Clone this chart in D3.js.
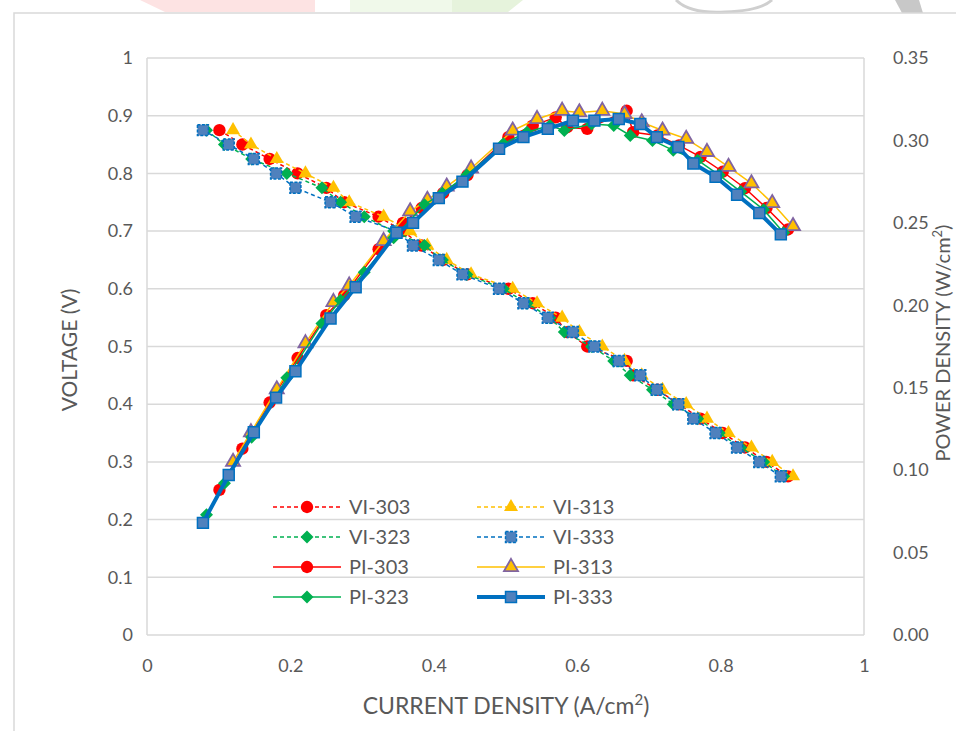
<!DOCTYPE html>
<html>
<head>
<meta charset="utf-8">
<script src="https://cdn.jsdelivr.net/npm/d3@7/dist/d3.min.js"></script>
<style>
  body { margin: 0; background: #fff; }
  svg { display: block; font-family: Lato, "Open Sans", sans-serif; }
</style>
</head>
<body>
<div id="chart"></div>
<script>
// voltage steps (V), shared by all four temperatures
const voltage = [0.875, 0.85, 0.825, 0.8, 0.775, 0.75, 0.725, 0.7, 0.675, 0.65, 0.625, 0.6, 0.575,
  0.55, 0.525, 0.5, 0.475, 0.45, 0.425, 0.4, 0.375, 0.35, 0.325, 0.3, 0.275];

// current density (A/cm2)
const current303 = [0.101, 0.133, 0.171, 0.210, 0.250, 0.275, 0.323, 0.357, 0.383, 0.413, 0.447, 0.504, 0.538,
  0.570, 0.586, 0.614, 0.669, 0.678, 0.712, 0.742, 0.772, 0.803, 0.834, 0.864, 0.894];
const current313 = [0.120, 0.145, 0.181, 0.221, 0.260, 0.282, 0.330, 0.367, 0.391, 0.418, 0.452, 0.510, 0.544,
  0.579, 0.603, 0.635, 0.666, 0.690, 0.719, 0.752, 0.781, 0.811, 0.843, 0.872, 0.901];
const current323 = [0.083, 0.108, 0.146, 0.195, 0.244, 0.270, 0.303, 0.344, 0.387, 0.412, 0.446, 0.497, 0.530,
  0.562, 0.582, 0.620, 0.651, 0.674, 0.705, 0.734, 0.768, 0.798, 0.828, 0.860, 0.888];
const current333 = [0.078, 0.114, 0.149, 0.180, 0.207, 0.256, 0.291, 0.348, 0.371, 0.407, 0.440, 0.491, 0.525,
  0.559, 0.594, 0.624, 0.658, 0.688, 0.711, 0.741, 0.762, 0.793, 0.823, 0.854, 0.884];

// power density (W/cm2)
const power303 = [0.088, 0.113, 0.141, 0.168, 0.194, 0.206, 0.234, 0.250, 0.259, 0.268, 0.279, 0.302, 0.309,
  0.314, 0.308, 0.307, 0.318, 0.305, 0.303, 0.297, 0.290, 0.281, 0.271, 0.259, 0.246];
const power313 = [0.105, 0.123, 0.149, 0.177, 0.202, 0.212, 0.239, 0.257, 0.264, 0.272, 0.283, 0.306, 0.313,
  0.318, 0.317, 0.318, 0.316, 0.311, 0.306, 0.301, 0.293, 0.284, 0.274, 0.262, 0.248];
const power323 = [0.073, 0.092, 0.120, 0.156, 0.189, 0.203, 0.220, 0.241, 0.261, 0.268, 0.279, 0.298, 0.305,
  0.309, 0.306, 0.310, 0.309, 0.303, 0.300, 0.294, 0.288, 0.279, 0.269, 0.258, 0.244];
const power333 = [0.068, 0.097, 0.123, 0.144, 0.160, 0.192, 0.211, 0.244, 0.250, 0.265, 0.275, 0.295, 0.302,
  0.307, 0.312, 0.312, 0.313, 0.310, 0.302, 0.296, 0.286, 0.278, 0.267, 0.256, 0.243];

const xTicks = [0, 0.2, 0.4, 0.6, 0.8, 1];
const leftTicks = [0, 0.1, 0.2, 0.3, 0.4, 0.5, 0.6, 0.7, 0.8, 0.9, 1];
const rightTicks = [0, 0.05, 0.1, 0.15, 0.2, 0.25, 0.3, 0.35];

const width = 956;
const height = 731;
const plot = { left: 147, right: 864, top: 58, bottom: 635 };
const textColor = '#595959';
const gridColor = '#d9d9d9';

const series = [
  { name: 'VI-303', x: current303, y: voltage, axis: 'left', color: '#FF0000', dash: '4,3', lw: 1.5,
    marker: 'circle', fill: '#FF0000', stroke: 'none' },
  { name: 'VI-313', x: current313, y: voltage, axis: 'left', color: '#FFC000', dash: '4,3', lw: 1.5,
    marker: 'triangle', fill: '#FFC000', stroke: 'none' },
  { name: 'VI-323', x: current323, y: voltage, axis: 'left', color: '#00B050', dash: '4,3', lw: 1.5,
    marker: 'diamond', fill: '#00B050', stroke: 'none' },
  { name: 'VI-333', x: current333, y: voltage, axis: 'left', color: '#0070C0', dash: '4,3', lw: 1.5,
    marker: 'square', fill: '#4F81BD', stroke: '#0070C0' },
  { name: 'PI-303', x: current303, y: power303, axis: 'right', color: '#FF0000', dash: null, lw: 1.5,
    marker: 'circle', fill: '#FF0000', stroke: 'none' },
  { name: 'PI-313', x: current313, y: power313, axis: 'right', color: '#FFC000', dash: null, lw: 1.5,
    marker: 'triangle', fill: '#FFC000', stroke: '#8064A2' },
  { name: 'PI-323', x: current323, y: power323, axis: 'right', color: '#00B050', dash: null, lw: 1.5,
    marker: 'diamond', fill: '#00B050', stroke: 'none' },
  { name: 'PI-333', x: current333, y: power333, axis: 'right', color: '#0070C0', dash: null, lw: 4,
    marker: 'square', fill: '#4F81BD', stroke: '#0070C0' }
];

const svg = d3.select('#chart')
  .append('svg')
  .attr('width', width)
  .attr('height', height);

// faint header artwork cut off at the top of the page
svg.append('path').attr('d', 'M140,0 L315,0 L315,12 L165,12 Z').attr('fill', '#fde3e3');
svg.append('path').attr('d', 'M350,0 L452,0 L452,12 L350,12 Z').attr('fill', '#f0f9ea');
svg.append('path').attr('d', 'M452,0 L523,0 L508,12 L452,12 Z').attr('fill', '#e6f3dc');
svg.append('path').attr('d', 'M676,0 Q690,14 725,12 Q760,11 772,0')
  .attr('fill', 'none').attr('stroke', '#cfcfcf').attr('stroke-width', 3);
svg.append('path').attr('d', 'M895,0 L919,0 L923,13 L902,13 Z').attr('fill', '#c8c8c8');

// chart frame
svg.append('path')
  .attr('d', 'M14,' + height + ' L14,13 L' + width + ',13')
  .attr('fill', 'none')
  .attr('stroke', gridColor)
  .attr('stroke-width', 1.5);

const x = d3.scaleLinear().domain([0, 1]).range([plot.left, plot.right]);
const yLeft = d3.scaleLinear().domain([0, 1]).range([plot.bottom, plot.top]);
const yRight = d3.scaleLinear().domain([0, 0.35]).range([plot.bottom, plot.top]);

// gridlines
svg.append('g')
  .selectAll('line')
  .data(leftTicks)
  .enter()
  .append('line')
  .attr('x1', plot.left)
  .attr('x2', plot.right)
  .attr('y1', d => yLeft(d))
  .attr('y2', d => yLeft(d))
  .attr('stroke', gridColor)
  .attr('stroke-width', 1.5);

svg.append('g')
  .selectAll('line')
  .data([0, 1])
  .enter()
  .append('line')
  .attr('x1', d => x(d))
  .attr('x2', d => x(d))
  .attr('y1', plot.top)
  .attr('y2', plot.bottom)
  .attr('stroke', gridColor)
  .attr('stroke-width', 1.5);

// axes
const styleAxis = g => {
  g.select('.domain').remove();
  g.selectAll('line').remove();
  g.selectAll('text')
    .attr('fill', textColor)
    .style('font-size', '18px')
    .style('font-family', 'Lato, sans-serif');
};

svg.append('g')
  .attr('transform', 'translate(' + plot.left + ',0)')
  .call(d3.axisLeft(yLeft).tickValues(leftTicks).tickSize(0).tickPadding(14)
    .tickFormat(d => String(+d.toFixed(1))))
  .call(styleAxis);

svg.append('g')
  .attr('transform', 'translate(' + plot.right + ',0)')
  .call(d3.axisRight(yRight).tickValues(rightTicks).tickSize(0).tickPadding(29)
    .tickFormat(d3.format('.2f')))
  .call(styleAxis);

svg.append('g')
  .attr('transform', 'translate(0,' + plot.bottom + ')')
  .call(d3.axisBottom(x).tickValues(xTicks).tickSize(0).tickPadding(24)
    .tickFormat(d => String(+d.toFixed(1))))
  .call(styleAxis);

// axis titles
const title = (tx, ty, rot, size, main, sup, tail) => {
  const t = svg.append('text')
    .attr('transform', 'translate(' + tx + ',' + ty + ') rotate(' + rot + ')')
    .attr('text-anchor', 'middle')
    .attr('fill', textColor)
    .style('font-size', size + 'px');
  t.append('tspan').text(main);
  if (sup) {
    t.append('tspan').attr('dy', -size * 0.4).style('font-size', Math.round(size * 0.65) + 'px').text(sup);
    t.append('tspan').attr('dy', size * 0.4).text(tail);
  }
};
title(506, 714, 0, 23, 'CURRENT DENSITY (A/cm', '2', ')');
title(77, 350, -90, 21, 'VOLTAGE (V)');
title(950, 343, -90, 20, 'POWER DENSITY (W/cm', '2', ')');

// marker shapes
const markerPath = {
  circle: d3.symbol().type(d3.symbolCircle).size(120)(),
  triangle: d3.symbol().type(d3.symbolTriangle).size(85)(),
  diamond: 'M0,-6.5L6.5,0L0,6.5L-6.5,0Z',
  square: d3.symbol().type(d3.symbolSquare).size(120)()
};

const drawMarker = (g, s, cx, cy) => {
  g.append('path')
    .attr('d', markerPath[s.marker])
    .attr('transform', 'translate(' + cx + ',' + cy + ')')
    .attr('fill', s.fill)
    .attr('stroke', s.stroke)
    .attr('stroke-width', s.marker === 'triangle' ? 1.8 : 1.5)
    .attr('stroke-dasharray', s.dash && s.stroke !== 'none' ? '3,1.5' : null);
};

// series lines and markers
series.forEach(s => {
  const yScale = s.axis === 'left' ? yLeft : yRight;
  const pts = s.x.map((v, i) => [v, s.y[i]]);
  const g = svg.append('g');

  g.append('path')
    .datum(pts)
    .attr('fill', 'none')
    .attr('stroke', s.color)
    .attr('stroke-width', s.lw)
    .attr('stroke-dasharray', s.dash)
    .attr('stroke-linejoin', 'round')
    .attr('d', d3.line().x(d => x(d[0])).y(d => yScale(d[1])));

  pts.forEach(d => drawMarker(g, s, x(d[0]), yScale(d[1])));
});

// legend, two columns
const legend = svg.append('g');
series.forEach((s, i) => {
  const col = i % 2;
  const row = Math.floor(i / 2);
  const lx = col === 0 ? 273 : 477;
  const ly = 507 + row * 30;
  legend.append('line')
    .attr('x1', lx)
    .attr('x2', lx + 68)
    .attr('y1', ly)
    .attr('y2', ly)
    .attr('stroke', s.color)
    .attr('stroke-width', s.lw)
    .attr('stroke-dasharray', s.dash);
  drawMarker(legend, s, lx + 34, ly);
  legend.append('text')
    .attr('x', lx + 76)
    .attr('y', ly + 7)
    .attr('fill', textColor)
    .style('font-size', '20px')
    .text(s.name);
});
</script>
</body>
</html>
